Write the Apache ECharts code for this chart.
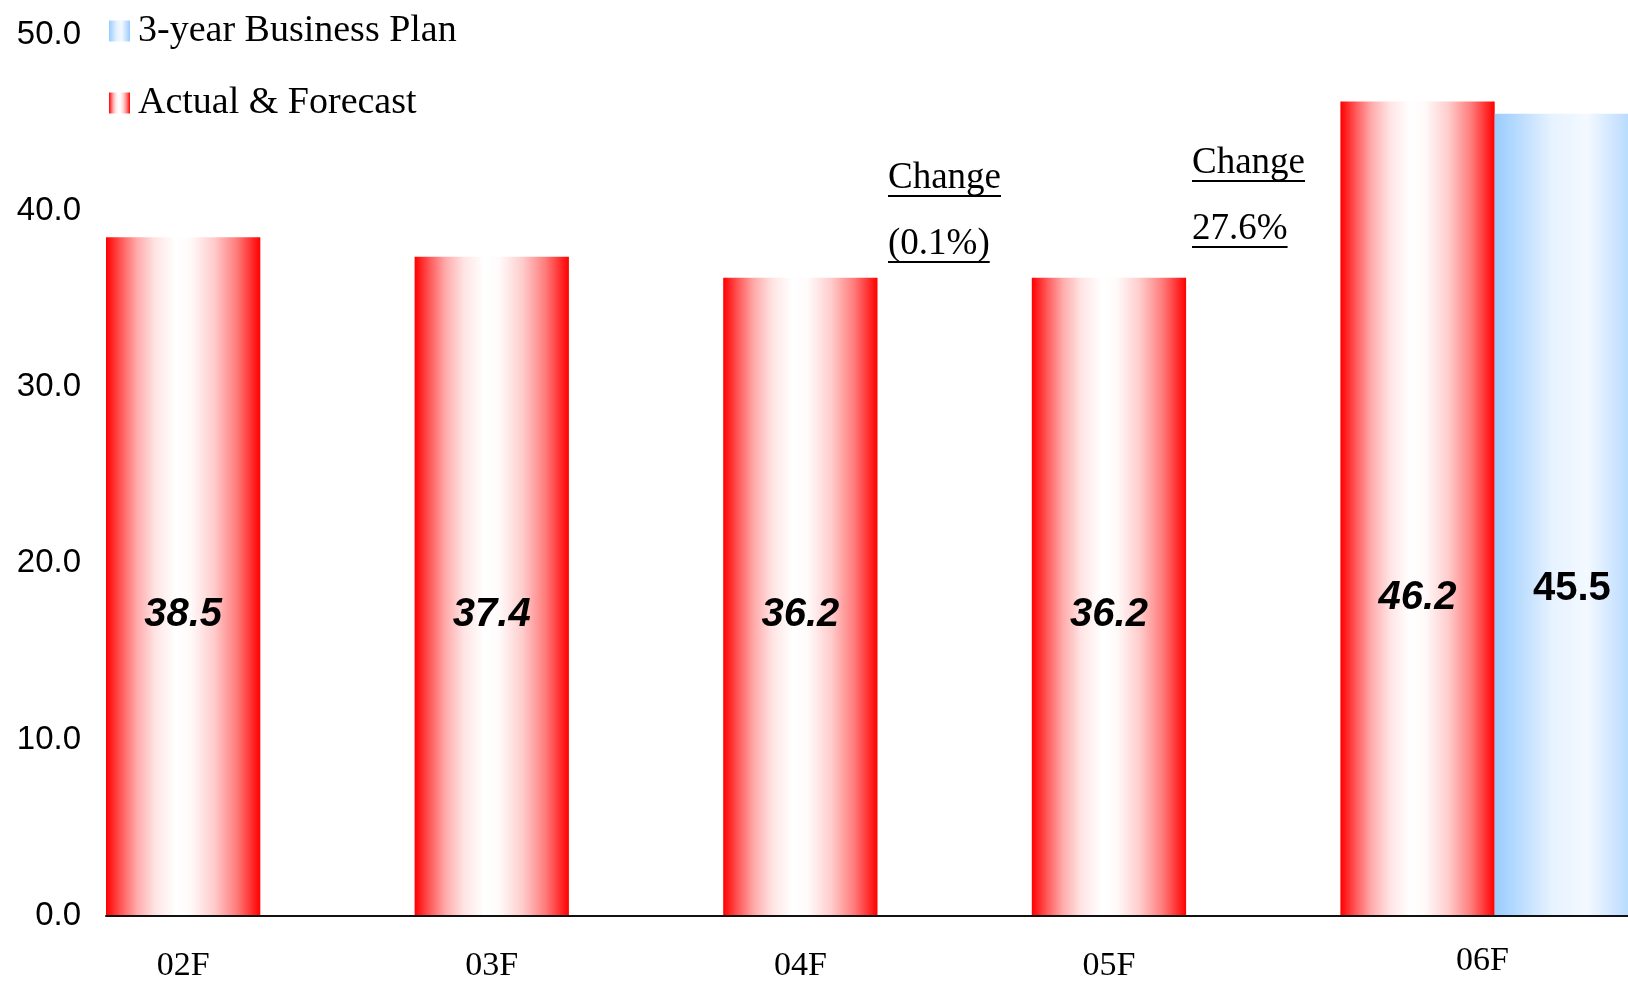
<!DOCTYPE html>
<html>
<head>
<meta charset="utf-8">
<title>Actual & Forecast vs 3-year Business Plan</title>
<script src="https://cdn.jsdelivr.net/npm/echarts@6/dist/echarts.min.js"></script>
<style>
  html, body { margin: 0; padding: 0; background: #fff; }
  #chart { width: 1628px; height: 981px; }
</style>
</head>
<body>
<div id="chart"></div>
<script>
// values
const categories = ['02F', '03F', '04F', '05F', '06F'];
const actual = [38.5, 37.4, 36.2, 36.2, 46.2];
const plan = [null, null, null, null, 45.5];
const yMin = 0, yMax = 50, yStep = 10;
const notes = [['Change', '(0.1%)'], ['Change', '27.6%']];

// every category gets two slots: actual on the left, plan on the right
const slotLabels = [];
categories.forEach(c => slotLabels.push(c, ''));
const actualSlots = actual.flatMap(v => [v, null]);
const planSlots = plan.flatMap(v => [null, v]);
const lastActual = slotLabels.length - 2;

const serif = '"Liberation Serif", "Times New Roman", serif';
const sans = '"Liberation Sans", Arial, sans-serif';

const red = new echarts.graphic.LinearGradient(0, 0, 1, 0, [
  { offset: 0, color: '#ff0000' },
  { offset: 0.1, color: '#ff5a5a' },
  { offset: 0.2, color: '#ffaaaa' },
  { offset: 0.32, color: '#ffe4e4' },
  { offset: 0.45, color: '#ffffff' },
  { offset: 0.55, color: '#fffafa' },
  { offset: 0.7, color: '#ffcccc' },
  { offset: 0.85, color: '#ff7a7a' },
  { offset: 1, color: '#ff0000' }
]);
const blue = new echarts.graphic.LinearGradient(0, 0, 1, 0, [
  { offset: 0, color: '#99ccff' },
  { offset: 0.15, color: '#b8dbff' },
  { offset: 0.37, color: '#e6f2ff' },
  { offset: 0.6, color: '#f3f9ff' },
  { offset: 0.8, color: '#c8e2ff' },
  { offset: 1, color: '#99ccff' }
]);

// underlined notes
const noteFont = '37px ' + serif;
const ctx = document.createElement('canvas').getContext('2d');
ctx.font = noteFont;
const notePos = [[888, 190], [1192, 175]];
const graphics = [];
notes.forEach((lines, k) => {
  const [x, base] = notePos[k];
  lines.forEach((t, j) => {
    const b = base + j * 66;
    const w = ctx.measureText(t).width;
    graphics.push({
      type: 'text', left: x, top: b - 30,
      style: { text: t, font: noteFont, fill: '#000' }
    });
    graphics.push({
      type: 'line',
      shape: { x1: x, y1: b + 6, x2: x + w, y2: b + 6 },
      style: { stroke: '#000', lineWidth: 2 }
    });
  });
});

const chart = echarts.init(document.getElementById('chart'));
chart.setOption({
  backgroundColor: '#fff',
  animation: false,
  grid: { left: 106, top: 34.5, width: 1543, height: 881.5, outerBoundsMode: 'none' },
  legend: {
    orient: 'vertical',
    left: 104,
    top: 6,
    itemWidth: 21,
    itemHeight: 21,
    itemGap: 32,
    icon: 'rect',
    data: ['3-year Business Plan', 'Actual & Forecast'],
    textStyle: { fontFamily: serif, fontSize: 38, lineHeight: 40, color: '#000', padding: [0, 0, 0, 3] }
  },
  xAxis: {
    type: 'category',
    z: 5,
    data: slotLabels,
    axisLine: { lineStyle: { color: '#111', width: 2 } },
    axisTick: { inside: true, length: 10, lineStyle: { color: '#111', width: 1.5 } },
    axisLabel: {
      interval: 0,
      margin: 33,
      fontFamily: serif,
      fontSize: 34,
      lineHeight: 34,
      color: '#000',
      formatter: (v, i) => (i === lastActual ? '{s|' + v + '}' : v),
      rich: { s: { fontFamily: serif, fontSize: 34, lineHeight: 24, padding: [0, 0, 0, 130], color: '#000' } }
    }
  },
  yAxis: {
    type: 'value',
    min: yMin,
    max: yMax,
    interval: yStep,
    splitLine: { show: false },
    axisLine: { show: false },
    axisTick: { show: false },
    axisLabel: {
      margin: 25,
      fontFamily: sans,
      fontSize: 33,
      color: '#000',
      formatter: v => v.toFixed(1)
    }
  },
  series: [
    {
      name: 'Actual & Forecast',
      type: 'bar',
      barWidth: '100%',
      barGap: '-100%',
      itemStyle: { color: red },
      label: {
        show: true,
        position: 'insideBottom',
        distance: 281,
        fontFamily: sans,
        fontSize: 40,
        fontWeight: 'bold',
        fontStyle: 'italic',
        color: '#000',
        formatter: p => p.value.toFixed(1)
      },
      data: actualSlots.map((v, i) =>
        v == null ? null : (i === lastActual ? { value: v, label: { distance: 298 } } : v))
    },
    {
      name: '3-year Business Plan',
      type: 'bar',
      barWidth: '100%',
      barGap: '-100%',
      itemStyle: { color: blue },
      label: {
        show: true,
        position: 'insideBottom',
        distance: 307,
        fontFamily: sans,
        fontSize: 40,
        fontWeight: 'bold',
        color: '#000',
        formatter: p => p.value.toFixed(1)
      },
      data: planSlots
    }
  ],
  graphic: graphics
});
</script>
</body>
</html>
